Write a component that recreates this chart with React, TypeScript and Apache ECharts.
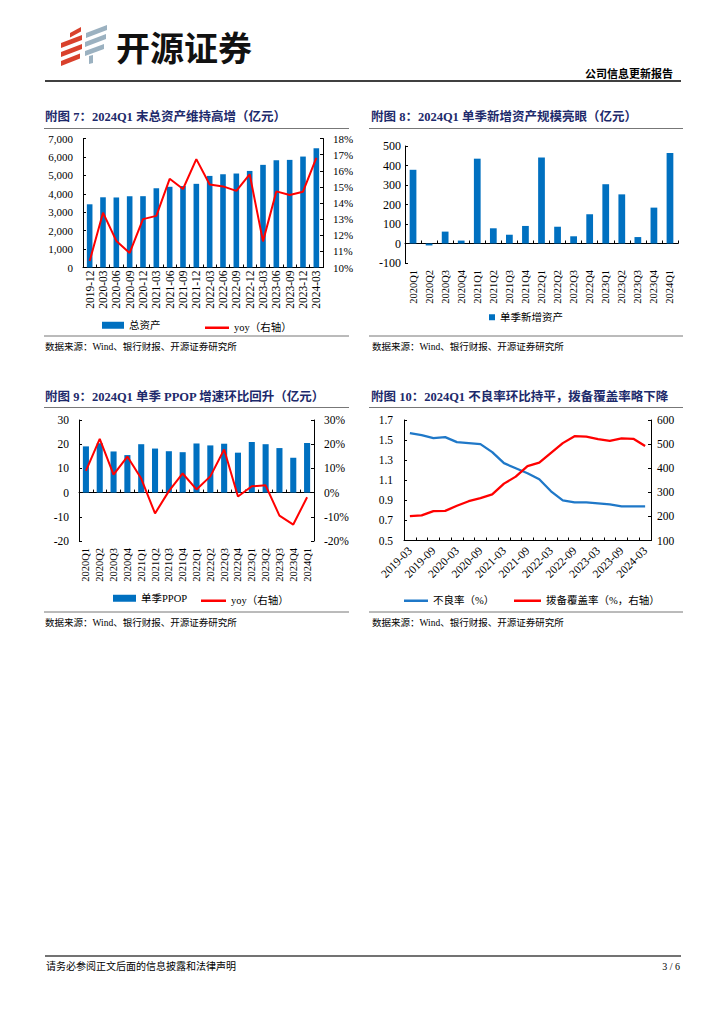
import React, { useEffect, useRef } from 'react';
import * as echarts from 'echarts';

// ---------- data ----------
const assetCategories = ['2019-12', '2020-03', '2020-06', '2020-09', '2020-12', '2021-03', '2021-06', '2021-09', '2021-12', '2022-03', '2022-06', '2022-09', '2022-12', '2023-03', '2023-06', '2023-09', '2023-12', '2024-03'];
const totalAssets = [3430, 3810, 3800, 3870, 3870, 4300, 4380, 4420, 4540, 4970, 5060, 5100, 5240, 5570, 5820, 5840, 6020, 6470];
const totalAssetsYoy = [10.4, 13.4, 11.65, 10.9, 13.0, 13.2, 15.5, 14.87, 16.72, 15.15, 15.03, 14.75, 15.78, 11.62, 14.72, 14.5, 14.7, 16.8];

const quarterCategories = ['2020Q1', '2020Q2', '2020Q3', '2020Q4', '2021Q1', '2021Q2', '2021Q3', '2021Q4', '2022Q1', '2022Q2', '2022Q3', '2022Q4', '2023Q1', '2023Q2', '2023Q3', '2023Q4', '2024Q1'];
const newAssets = [378, -10, 61, 15, 435, 78, 45, 90, 441, 86, 37, 150, 304, 252, 33, 184, 464];
const ppop = [19.1, 20.4, 17.0, 15.5, 20.0, 18.2, 17.1, 16.7, 20.3, 19.5, 20.2, 16.5, 20.9, 20.0, 18.4, 14.4, 20.5];
const ppopYoy = [9.0, 22.2, 7.4, 14.9, 5.8, -8.6, 0.6, 7.9, 1.3, 6.7, 17.8, -1.6, 2.6, 3.0, -9.5, -13.2, -1.9];

const nplCategories = ['2019-03', '2019-06', '2019-09', '2019-12', '2020-03', '2020-06', '2020-09', '2020-12', '2021-03', '2021-06', '2021-09', '2021-12', '2022-03', '2022-06', '2022-09', '2022-12', '2023-03', '2023-06', '2023-09', '2023-12', '2024-03'];
const nplRatio = [1.57, 1.55, 1.52, 1.53, 1.48, 1.47, 1.46, 1.38, 1.27, 1.22, 1.17, 1.11, 0.99, 0.90, 0.88, 0.88, 0.87, 0.86, 0.84, 0.84, 0.84];
const provisionCoverage = [201, 204, 222, 223, 244, 263, 276, 291, 336, 365, 409, 423, 464, 504, 533, 531, 521, 513, 524, 522, 492];
const nplAxisTicks = [0.5, 0.7, 0.9, 1.1, 1.3, 1.5, 1.7];

const titles = [
  '附图 7：2024Q1 末总资产维持高增（亿元）',
  '附图 8：2024Q1 单季新增资产规模亮眼（亿元）',
  '附图 9：2024Q1 单季 PPOP 增速环比回升（亿元）',
  '附图 10：2024Q1 不良率环比持平，拨备覆盖率略下降',
];
const sourceText = '数据来源：Wind、银行财报、开源证券研究所';

const SERIF = '"Liberation Serif", "Noto Sans CJK SC", serif';
const BLUE = '#0070c0';
const LINE_BLUE = '#1f78c8';
const RED = '#ff0000';
const NAVY = '#1d2a6b';

function yAxis(gridIndex: number, extra: any, fontSize: number, margin: number) {
  return {
    type: 'value',
    gridIndex,
    axisLine: { show: true, onZero: false, lineStyle: { color: '#000', width: 1 } },
    axisTick: { show: true, inside: true, length: 3, lineStyle: { color: '#000' } },
    splitLine: { show: false },
    axisLabel: { fontFamily: SERIF, fontSize, color: '#000', margin },
    ...extra,
    ...(extra.axisLabel ? { axisLabel: { fontFamily: SERIF, fontSize, color: '#000', margin, ...extra.axisLabel } } : {}),
    ...(extra.axisTick ? { axisTick: { show: true, inside: true, length: 3, lineStyle: { color: '#000' }, ...extra.axisTick } } : {}),
  };
}

function labelAxis(gridIndex: number, data: string[], fontSize: number, margin: number, rotate: number, showLine: boolean, interval = 0) {
  return {
    type: 'category',
    gridIndex,
    data,
    position: 'bottom',
    axisLine: { show: showLine, onZero: false, lineStyle: { color: '#000', width: 1 } },
    axisTick: { show: showLine, inside: true, length: 3, interval: 0, lineStyle: { color: '#000' } },
    axisLabel: { fontFamily: SERIF, fontSize, color: '#000', margin, rotate, interval },
    splitLine: { show: false },
  };
}

function zeroAxis(gridIndex: number, data: string[]) {
  return {
    type: 'category',
    gridIndex,
    data,
    position: 'bottom',
    axisLine: { show: true, onZero: true, lineStyle: { color: '#000', width: 1 } },
    axisTick: { show: true, inside: true, length: 3, interval: 0, lineStyle: { color: '#000' } },
    axisLabel: { show: false },
    splitLine: { show: false },
  };
}

function legend(name: string, left: number, top: number, w: number, h: number) {
  return {
    data: [name],
    left,
    top,
    padding: 0,
    icon: 'rect',
    itemWidth: w,
    itemHeight: h,
    selectedMode: false,
    textStyle: { fontFamily: SERIF, fontSize: 10.5, color: '#000' },
  };
}

function text(str: string, x: number, y: number, font: string, fill = '#000', align = 'left') {
  return {
    type: 'text',
    silent: true,
    style: { text: str, x, y, font, fill, textAlign: align, textVerticalAlign: 'middle', verticalAlign: 'middle' },
  };
}

function hline(x1: number, x2: number, y: number, stroke: string, lineWidth: number) {
  return { type: 'line', silent: true, shape: { x1, y1: y, x2, y2: y }, style: { stroke, lineWidth } };
}

function poly(points: number[][], fill: string) {
  return { type: 'polygon', silent: true, shape: { points }, style: { fill } };
}

function buildOption(): any {
  const titleFont = `bold 12.5px ${SERIF}`;
  const srcFont = `9.5px ${SERIF}`;
  const LOGO_RED = '#d9412c';
  const LOGO_GRAY = '#9bb1c0';

  const graphic: any[] = [
    // logo
    poly([[70, 33], [81, 27], [81, 31.5], [70, 37.5]], LOGO_RED),
    poly([[61, 43], [82, 35], [82, 40], [61, 48]], LOGO_RED),
    poly([[61, 52], [82, 44], [82, 49], [61, 57]], LOGO_RED),
    poly([[61, 61], [80, 53.5], [80, 58.5], [61, 66]], LOGO_RED),
    poly([[86, 33], [107, 25], [107, 30], [86, 38]], LOGO_GRAY),
    poly([[85, 42], [106, 34], [106, 39], [85, 47]], LOGO_GRAY),
    poly([[85, 51], [104, 44], [104, 49], [85, 56]], LOGO_GRAY),
    poly([[89, 56], [93, 55], [93, 63], [89, 64]], LOGO_GRAY),
    text('开源证券', 116, 46, `bold 34px "Noto Sans CJK SC", sans-serif`, '#111'),
    text('公司信息更新报告', 673, 73, `bold 11px "Noto Sans CJK SC", sans-serif`, '#000', 'right'),
    hline(45, 681, 81, '#000', 1.5),
    // titles
    text(titles[0], 45, 117, titleFont, NAVY),
    text(titles[1], 371, 117, titleFont, NAVY),
    text(titles[2], 45, 397, titleFont, NAVY),
    text(titles[3], 371, 397, titleFont, NAVY),
    hline(44, 349, 128.5, '#777', 1),
    hline(369, 683, 128.5, '#777', 1),
    hline(44, 349, 407.5, '#777', 1),
    hline(369, 683, 407.5, '#777', 1),
    // sources
    hline(44, 349, 336, '#777', 1),
    hline(369, 683, 336, '#777', 1),
    hline(44, 349, 612, '#777', 1),
    hline(369, 683, 612, '#777', 1),
    text(sourceText, 45, 347, srcFont),
    text(sourceText, 372, 347, srcFont),
    text(sourceText, 45, 623, srcFont),
    text(sourceText, 372, 623, srcFont),
    // footer
    hline(45, 681, 956, '#444', 1.5),
    text('请务必参阅正文后面的信息披露和法律声明', 46, 966, `10px ${SERIF}`),
    text('3 / 6', 680, 966, `10px ${SERIF}`, '#000', 'right'),
  ];

  return {
    animation: false,
    backgroundColor: '#fff',
    textStyle: { fontFamily: SERIF },
    grid: [
      { left: 83, top: 138.5, width: 240, height: 129, containLabel: false },
      { left: 405, top: 146, width: 273, height: 117, containLabel: false },
      { left: 79, top: 420, width: 235, height: 121, containLabel: false },
      { left: 404, top: 420, width: 247, height: 120.5, containLabel: false },
    ],
    xAxis: [
      labelAxis(0, assetCategories, 11.5, 3, 90, true),
      labelAxis(1, quarterCategories, 10.5, 7, 90, false),
      zeroAxis(1, quarterCategories),
      labelAxis(2, quarterCategories, 10.5, 7, 90, false),
      zeroAxis(2, quarterCategories),
      labelAxis(3, nplCategories, 11.5, 8, 45, true, 1),
    ],
    yAxis: [
      yAxis(0, { min: 0, max: 7000, interval: 1000, axisLabel: { formatter: (v: number) => v.toLocaleString('en-US') } }, 11, 10),
      yAxis(0, { min: 10, max: 18, interval: 1, position: 'right', axisLabel: { formatter: '{value}%' } }, 11, 10),
      yAxis(1, { min: -100, max: 500, interval: 100 }, 12, 4),
      yAxis(2, { min: -20, max: 30, interval: 10 }, 11.5, 10),
      yAxis(2, { min: -20, max: 30, interval: 10, position: 'right', axisLabel: { formatter: '{value}%' } }, 11.5, 10),
      yAxis(3, { min: 0.5, max: 1.7, axisLabel: { customValues: nplAxisTicks, formatter: (v: number) => v.toFixed(1) }, axisTick: { customValues: nplAxisTicks } }, 11.5, 11),
      yAxis(3, { min: 100, max: 600, interval: 100, position: 'right' }, 11.5, 6),
    ],
    legend: [
      legend('总资产', 102, 320, 22, 7),
      legend('yoy（右轴）', 205, 322.5, 24, 2.5),
      legend('单季新增资产', 489, 312, 6, 6),
      legend('单季PPOP', 113, 593, 23, 7),
      legend('yoy（右轴）', 201, 595.5, 25, 2.5),
      legend('不良率（%）', 404, 595.5, 24, 2.5),
      legend('拨备覆盖率（%，右轴）', 514, 595.5, 27, 2.5),
    ],
    series: [
      { type: 'bar', name: '总资产', xAxisIndex: 0, yAxisIndex: 0, data: totalAssets, barWidth: '42%', itemStyle: { color: BLUE } },
      { type: 'line', name: 'yoy（右轴）', xAxisIndex: 0, yAxisIndex: 1, data: totalAssetsYoy, symbol: 'none', lineStyle: { color: RED, width: 2 }, itemStyle: { color: RED }, z: 5 },
      { type: 'bar', name: '单季新增资产', xAxisIndex: 1, yAxisIndex: 2, data: newAssets, barWidth: '42%', itemStyle: { color: BLUE } },
      { type: 'bar', name: '单季PPOP', xAxisIndex: 3, yAxisIndex: 3, data: ppop, barWidth: '44%', itemStyle: { color: BLUE } },
      { type: 'line', name: 'yoy（右轴）', xAxisIndex: 3, yAxisIndex: 4, data: ppopYoy, symbol: 'none', lineStyle: { color: RED, width: 2 }, itemStyle: { color: RED }, z: 5 },
      { type: 'line', name: '不良率（%）', xAxisIndex: 5, yAxisIndex: 5, data: nplRatio, symbol: 'none', lineStyle: { color: LINE_BLUE, width: 2.3 }, itemStyle: { color: LINE_BLUE }, z: 5 },
      { type: 'line', name: '拨备覆盖率（%，右轴）', xAxisIndex: 5, yAxisIndex: 6, data: provisionCoverage, symbol: 'none', lineStyle: { color: RED, width: 2.3 }, itemStyle: { color: RED }, z: 5 },
    ],
    graphic,
  };
}

export default function App() {
  const ref = useRef<HTMLDivElement>(null);
  useEffect(() => {
    if (!ref.current) return;
    const chart = echarts.init(ref.current, undefined, { renderer: 'svg' });
    chart.setOption(buildOption());
    return () => chart.dispose();
  }, []);
  return (
    <div
      ref={ref}
      style={{ position: 'absolute', left: 0, top: 0, width: 724, height: 1024, background: '#fff' }}
    />
  );
}
